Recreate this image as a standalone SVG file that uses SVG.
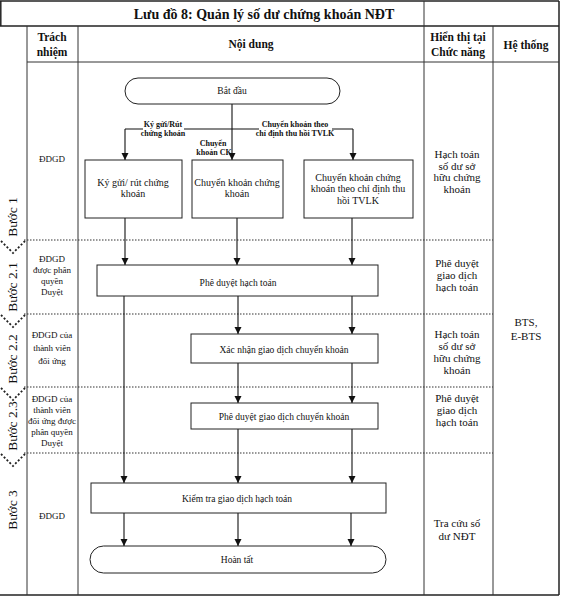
<svg xmlns="http://www.w3.org/2000/svg" width="561" height="601" viewBox="0 0 561 601">
<style>
text{font-family:"Liberation Serif","Times New Roman",serif;fill:#111;text-anchor:middle}
.title{font-size:14px;font-weight:bold}
.hdr{font-size:11.5px;font-weight:bold}
.resp{font-size:9px}
.disp{font-size:11px}
.box{font-size:10px}
.sbox{font-size:9.5px}
.lbl{font-size:8px;font-weight:bold}
.step{font-size:13.5px}
.grid{stroke:#333;stroke-width:1;fill:none}
.outer{stroke:#222;stroke-width:1.5;fill:none}
.dot{stroke:#333;stroke-width:1.2;stroke-dasharray:1.5 1.5;fill:none}
.chev{stroke:#222;stroke-width:1.8;stroke-dasharray:2 2;fill:none}
.node{fill:#fff;stroke:#222;stroke-width:1}
.conn{stroke:#111;stroke-width:1.1;fill:none;marker-end:url(#arr)}
.line{stroke:#111;stroke-width:1.1;fill:none}
</style>
<defs>
<marker id="arr" markerUnits="userSpaceOnUse" markerWidth="8" markerHeight="8" refX="7" refY="4" orient="auto">
<path d="M0,0.5 L7,4 L0,7.5 z" fill="#111"/>
</marker>
</defs>
<rect width="561" height="601" fill="#fff"/>

<g id="grid">
<line class="outer" x1="0" y1="1" x2="559" y2="1"/>
<line class="outer" x1="0.8" y1="1" x2="0.8" y2="26"/>
<line class="outer" x1="559" y1="1" x2="559" y2="595"/>
<line class="outer" x1="0" y1="595" x2="559" y2="595"/>
<line class="outer" x1="0" y1="26" x2="559" y2="26"/>
<line class="grid" x1="27" y1="62" x2="559" y2="62"/>
<line class="grid" x1="27" y1="26" x2="27" y2="595"/>
<line class="grid" x1="78" y1="26" x2="78" y2="595"/>
<line class="grid" x1="424" y1="1" x2="424" y2="595"/>
<line class="grid" x1="493" y1="26" x2="493" y2="595"/>
<line class="dot" x1="24" y1="240" x2="493" y2="240"/>
<line class="dot" x1="24" y1="314" x2="493" y2="314"/>
<line class="dot" x1="24" y1="387" x2="493" y2="387"/>
<line class="dot" x1="24" y1="453" x2="493" y2="453"/>
<polyline class="chev" points="1,241 13,253 25,241"/>
<polyline class="chev" points="1,315 13,327 25,315"/>
<polyline class="chev" points="1,388 13,400 25,388"/>
<polyline class="chev" points="1,454 13,466 25,454"/>
</g>

<g id="headers">
<text class="title" x="264" y="19">Lưu đồ 8: Quản lý số dư chứng khoán NĐT</text>
<text class="hdr" x="52" y="41">Trách</text>
<text class="hdr" x="52" y="56">nhiệm</text>
<text class="hdr" x="251" y="48">Nội dung</text>
<text class="hdr" x="458" y="41">Hiển thị tại</text>
<text class="hdr" x="458" y="56">Chức năng</text>
<text class="hdr" x="526" y="49">Hệ thống</text>
</g>

<g id="steps">
<text class="step" transform="translate(17,217) rotate(-90)">Bước 1</text>
<text class="step" transform="translate(17,287) rotate(-90)">Bước 2.1</text>
<text class="step" transform="translate(17,359) rotate(-90)">Bước 2.2</text>
<text class="step" transform="translate(17,426) rotate(-90)">Bước 2.3</text>
<text class="step" transform="translate(17,510) rotate(-90)">Bước 3</text>
</g>

<g id="responsibility">
<text class="resp" x="52" y="162">ĐDGD</text>
<text class="resp" x="52" y="262">ĐDGD</text>
<text class="resp" x="52" y="273">được phân</text>
<text class="resp" x="52" y="284">quyền</text>
<text class="resp" x="52" y="295">Duyệt</text>
<text class="resp" x="52" y="338">ĐDGD của</text>
<text class="resp" x="52" y="351">thành viên</text>
<text class="resp" x="52" y="364">đối ứng</text>
<text class="resp" x="52" y="402">ĐDGD của</text>
<text class="resp" x="52" y="413">thành viên</text>
<text class="resp" x="52" y="424">đối ứng được</text>
<text class="resp" x="52" y="435">phân quyền</text>
<text class="resp" x="52" y="446">Duyệt</text>
<text class="resp" x="52" y="519">ĐDGD</text>
</g>

<g id="display">
<text class="disp" x="457" y="158">Hạch toán</text>
<text class="disp" x="457" y="170">số dư sở</text>
<text class="disp" x="457" y="181">hữu chứng</text>
<text class="disp" x="457" y="193">khoán</text>
<text class="disp" x="457" y="267">Phê duyệt</text>
<text class="disp" x="457" y="279">giao dịch</text>
<text class="disp" x="457" y="291">hạch toán</text>
<text class="disp" x="457" y="338">Hạch toán</text>
<text class="disp" x="457" y="350">số dư sở</text>
<text class="disp" x="457" y="362">hữu chứng</text>
<text class="disp" x="457" y="374">khoán</text>
<text class="disp" x="457" y="402">Phê duyệt</text>
<text class="disp" x="457" y="414">giao dịch</text>
<text class="disp" x="457" y="426">hạch toán</text>
<text class="disp" x="457" y="527">Tra cứu số</text>
<text class="disp" x="457" y="540">dư NĐT</text>
</g>

<g id="system">
<text class="disp" x="526" y="326">BTS,</text>
<text class="disp" x="526" y="340">E-BTS</text>
</g>

<g id="connectors">
<line class="conn" x1="232" y1="104" x2="232" y2="160"/>
<polyline class="line" points="125,129 353,129"/>
<line class="conn" x1="125" y1="129" x2="125" y2="160"/>
<line class="conn" x1="353" y1="129" x2="353" y2="160"/>
<line class="conn" x1="125" y1="218" x2="125" y2="265"/>
<line class="conn" x1="237" y1="218" x2="237" y2="265"/>
<line class="conn" x1="352" y1="218" x2="352" y2="265"/>
<line class="conn" x1="124" y1="296" x2="124" y2="483"/>
<line class="conn" x1="238" y1="296" x2="238" y2="334"/>
<line class="conn" x1="352" y1="296" x2="352" y2="334"/>
<line class="conn" x1="238" y1="363" x2="238" y2="403"/>
<line class="conn" x1="352" y1="363" x2="352" y2="403"/>
<line class="conn" x1="238" y1="429" x2="238" y2="483"/>
<line class="conn" x1="352" y1="429" x2="352" y2="483"/>
<line class="conn" x1="124" y1="513" x2="124" y2="546"/>
<line class="conn" x1="238" y1="513" x2="238" y2="546"/>
<line class="conn" x1="351" y1="513" x2="351" y2="546"/>
<rect x="143" y="119" width="41" height="20" fill="#fff"/>
<rect x="259" y="119" width="73" height="20" fill="#fff"/>
<text class="lbl" x="163" y="127">Ký gửi/Rút</text>
<text class="lbl" x="163" y="136">chứng khoán</text>
<text class="lbl" x="295" y="127">Chuyển khoản theo</text>
<text class="lbl" x="295" y="136">chỉ định thu hồi TVLK</text>
<text class="lbl" x="213" y="146">Chuyển</text>
<text class="lbl" x="214" y="155">khoản CK</text>
</g>

<g id="start">
<rect class="node" x="125" y="78" width="215" height="26" rx="13"/>
<text class="sbox" x="232" y="94">Bắt đầu</text>
</g>
<g id="deposit">
<rect class="node" x="85" y="160" width="97" height="58"/>
<text class="box" x="133" y="185.5">Ký gửi/ rút chứng</text>
<text class="box" x="133" y="197">khoán</text>
</g>
<g id="transfer">
<rect class="node" x="192" y="160" width="91" height="58"/>
<text class="box" x="237" y="185.5">Chuyển khoản chứng</text>
<text class="box" x="237" y="197">khoán</text>
</g>
<g id="recall">
<rect class="node" x="304" y="160" width="109" height="58"/>
<text class="box" x="358" y="180.5">Chuyển khoản chứng</text>
<text class="box" x="358" y="192">khoán theo chỉ định thu</text>
<text class="box" x="358" y="203.5">hồi TVLK</text>
</g>
<g id="approve-post">
<rect class="node" x="97" y="265" width="281" height="31"/>
<text class="sbox" x="238" y="285.5">Phê duyệt hạch toán</text>
</g>
<g id="confirm">
<rect class="node" x="191" y="334" width="187" height="29"/>
<text class="sbox" x="284" y="352.5">Xác nhận giao dịch chuyển khoản</text>
</g>
<g id="approve-transfer">
<rect class="node" x="191" y="403" width="187" height="26"/>
<text class="sbox" x="284" y="419.5">Phê duyệt giao dịch chuyển khoản</text>
</g>
<g id="check">
<rect class="node" x="91" y="483" width="295" height="30"/>
<text class="sbox" x="237" y="502">Kiểm tra giao dịch hạch toán</text>
</g>
<g id="end">
<rect class="node" x="90" y="546" width="296" height="27" rx="13.5"/>
<text class="sbox" x="237" y="563">Hoàn tất</text>
</g>
</svg>
